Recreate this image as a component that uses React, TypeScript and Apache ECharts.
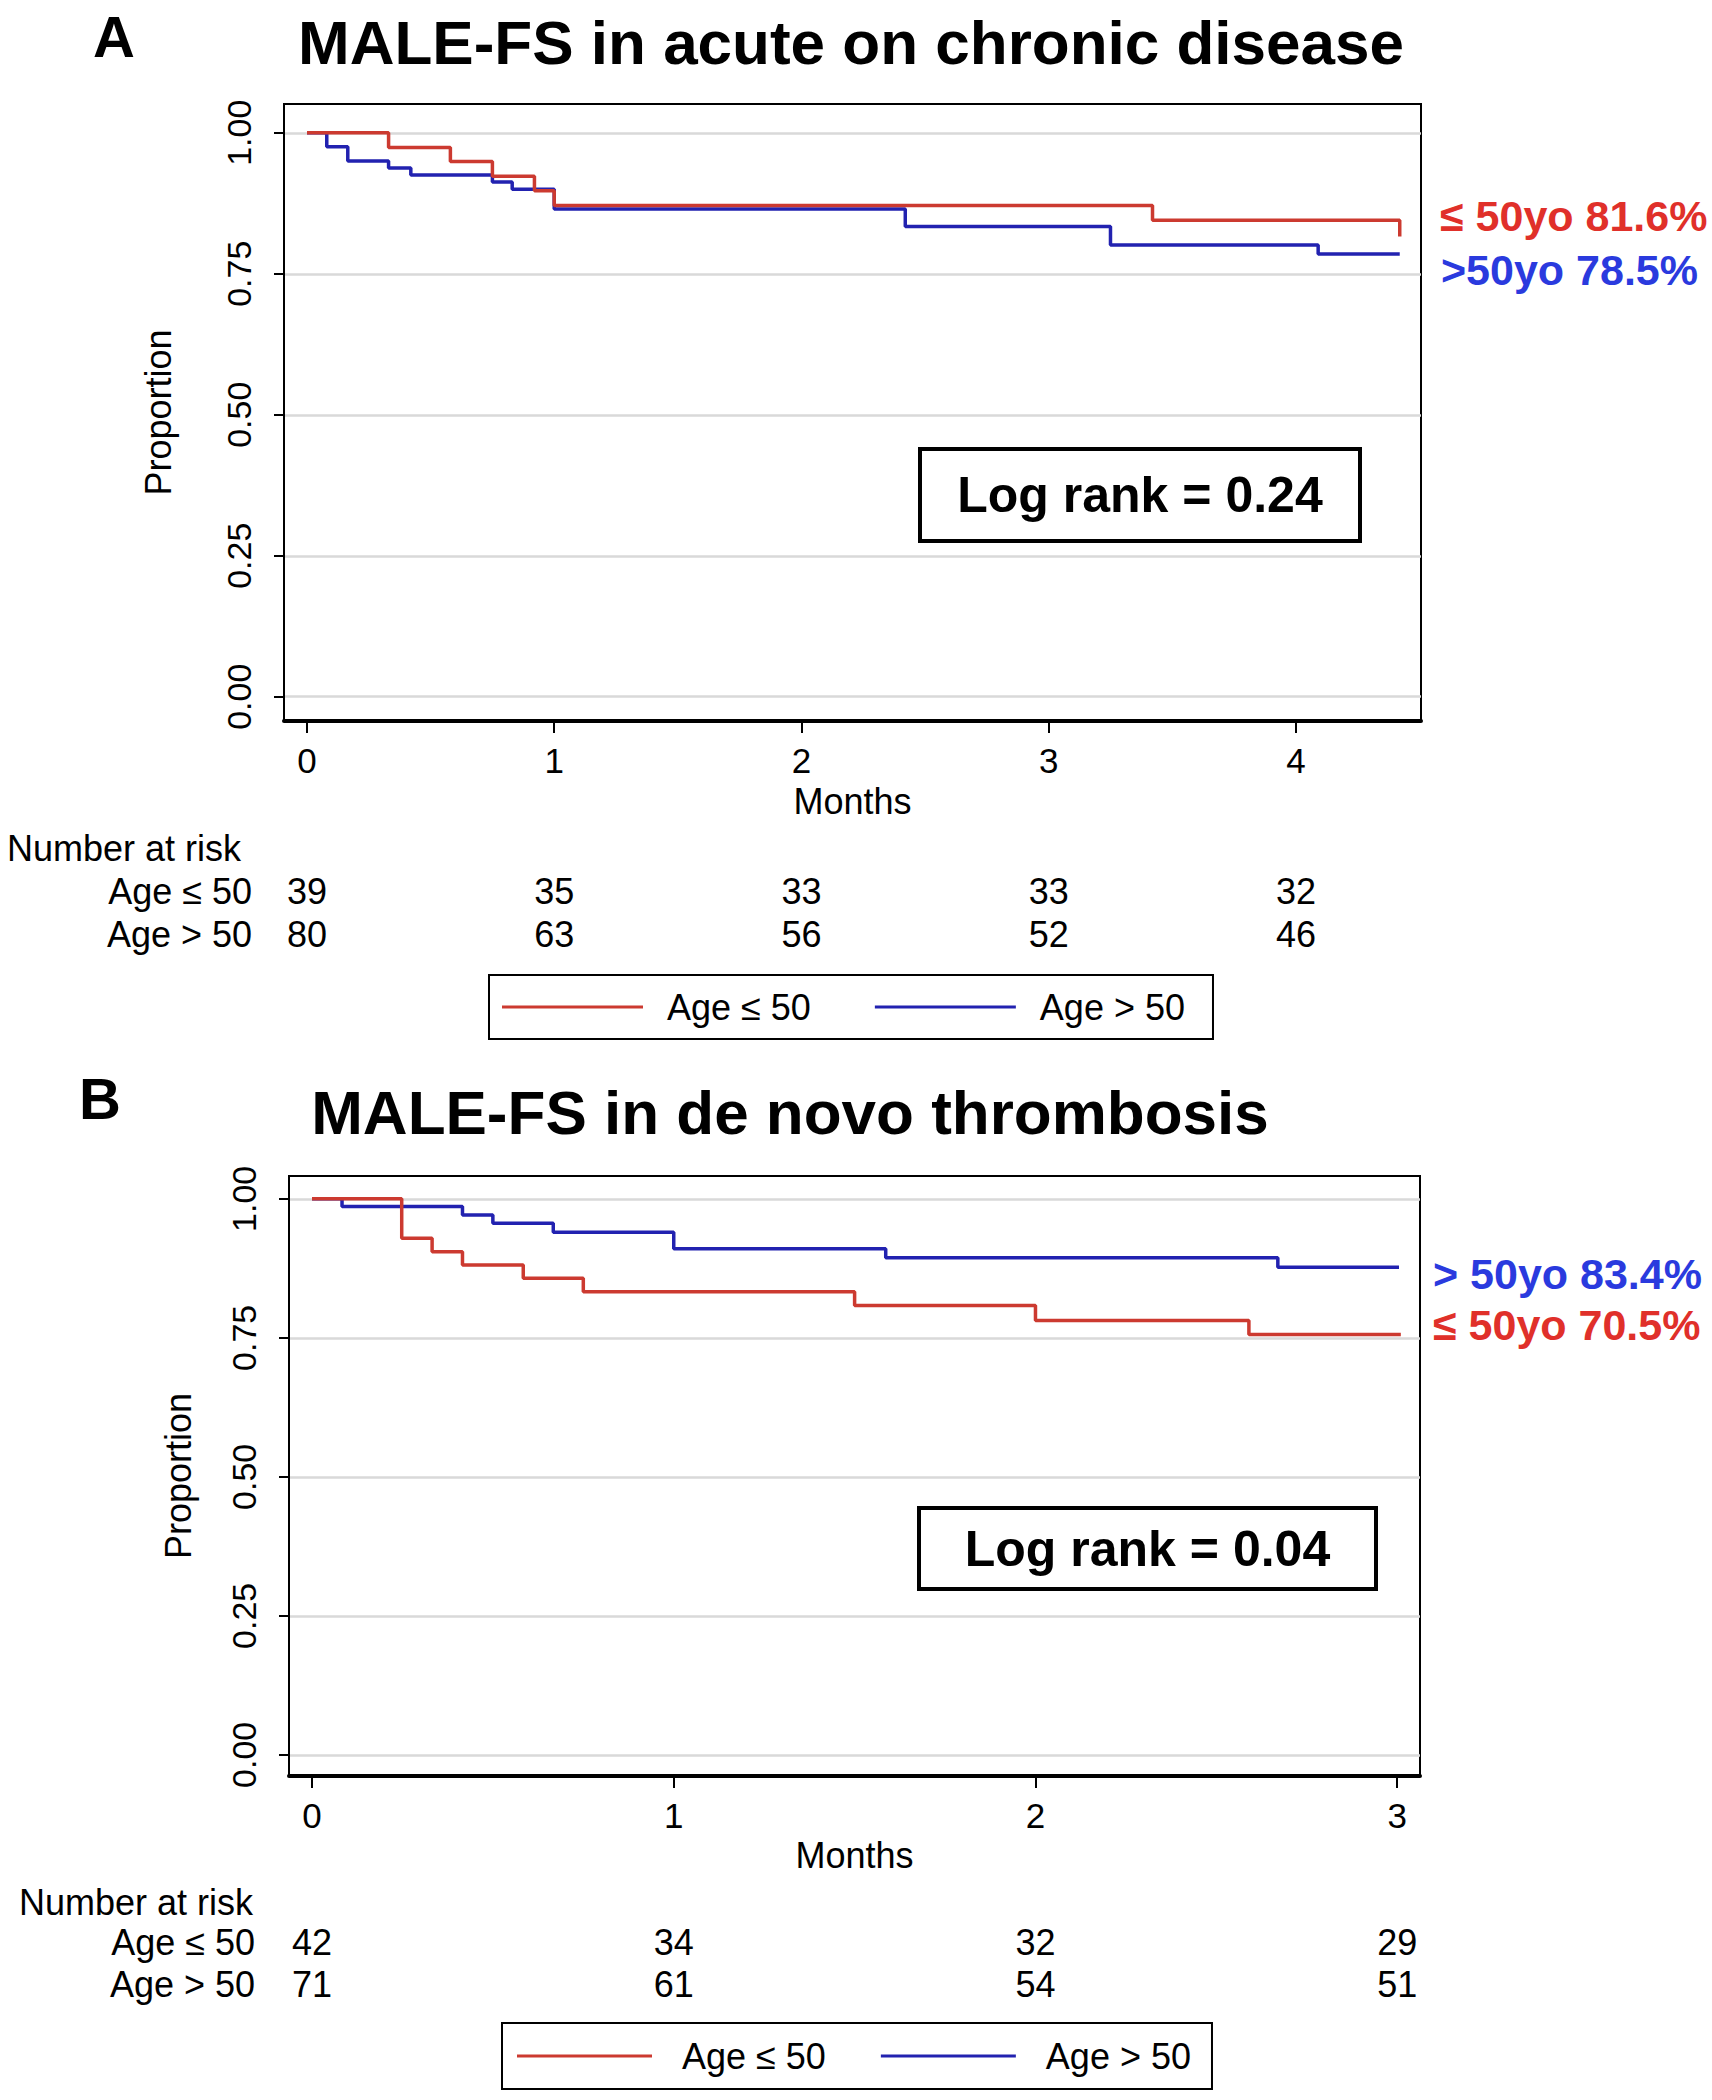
import React, { useEffect, useRef } from "react";
import * as echarts from "echarts";

// ---------- data ----------
const monthTicksA = [0, 1, 2, 3, 4];
const monthTicksB = [0, 1, 2, 3];
const propTicks = [0, 0.25, 0.5, 0.75, 1];

// Panel A: acute on chronic disease  [months, survival proportion]
const aLow: [number, number][] = [
  [0, 1], [0.33, 0.974], [0.58, 0.949], [0.75, 0.923], [0.92, 0.897],
  [1.0, 0.871], [3.42, 0.845], [4.42, 0.816],
];
const aHigh: [number, number][] = [
  [0, 1], [0.08, 0.975], [0.165, 0.95], [0.33, 0.9375], [0.42, 0.925],
  [0.75, 0.9125], [0.83, 0.9], [1.0, 0.865], [2.42, 0.834], [3.25, 0.801],
  [4.09, 0.785], [4.42, 0.785],
];
// Panel B: de novo thrombosis
const bLow: [number, number][] = [
  [0, 1], [0.248, 0.929], [0.332, 0.905], [0.416, 0.881], [0.584, 0.857],
  [0.75, 0.833], [1.5, 0.808], [2.0, 0.781], [2.59, 0.756], [3.01, 0.756],
];
const bHigh: [number, number][] = [
  [0, 1], [0.083, 0.986], [0.416, 0.971], [0.5, 0.956], [0.667, 0.94],
  [1.0, 0.91], [1.586, 0.894], [2.67, 0.877], [3.005, 0.877],
];

const riskALow = [39, 35, 33, 33, 32];
const riskAHigh = [80, 63, 56, 52, 46];
const riskBLow = [42, 34, 32, 29];
const riskBHigh = [71, 61, 54, 51];

const groupNames = ["Age \u2264 50", "Age > 50"];
const titleA = "MALE-FS in acute on chronic disease";
const titleB = "MALE-FS in de novo thrombosis";
const endLabelsA = ["\u2264 50yo 81.6%", ">50yo 78.5%"];
const endLabelsB = ["> 50yo 83.4%", "\u2264 50yo 70.5%"];
const logRankA = "Log rank = 0.24";
const logRankB = "Log rank = 0.04";

// ---------- styles ----------
const FONT = "'Liberation Sans', Arial, Helvetica, sans-serif";
const RED = "#cc3a30";
const BLUE = "#2222b0";
const TXT_RED = "#e0302a";
const TXT_BLUE = "#2a3ade";

function mainX(gridIndex: number, min: number, max: number, ticks: number[], nameGap: number) {
  return {
    type: "value", gridIndex, min, max,
    name: "Months", nameLocation: "middle", nameGap,
    nameTextStyle: { fontFamily: FONT, fontSize: 36, color: "#000" },
    axisLine: { show: true, onZero: false, lineStyle: { color: "#000", width: 4 } },
    axisTick: { show: true, length: 12, customValues: ticks, lineStyle: { color: "#000", width: 2 } },
    axisLabel: {
      show: true, customValues: ticks, margin: 22, fontFamily: FONT, fontSize: 35, color: "#000",
      formatter: (v: number) => String(v),
    },
    splitLine: { show: false },
  };
}

function riskX(gridIndex: number, min: number, max: number, ticks: number[], counts: number[], offset: number) {
  return {
    type: "value", gridIndex, min, max, position: "bottom", offset,
    axisLine: { show: false }, axisTick: { show: false }, splitLine: { show: false },
    axisLabel: {
      show: true, customValues: ticks, margin: 0, fontFamily: FONT, fontSize: 36, color: "#000",
      formatter: (v: number) => String(counts[ticks.indexOf(Math.round(v))]),
    },
  };
}

function mainY(gridIndex: number, min: number, max: number, nameGap: number) {
  return {
    type: "value", gridIndex, min, max,
    name: "Proportion", nameLocation: "middle", nameGap, nameRotate: 90,
    nameTextStyle: { fontFamily: FONT, fontSize: 36, color: "#000" },
    axisLine: { show: true, onZero: false, lineStyle: { color: "#000", width: 2 } },
    axisTick: { show: true, length: 10, customValues: propTicks, lineStyle: { color: "#000", width: 2 } },
    axisLabel: {
      show: true, customValues: propTicks, rotate: 90, margin: 28, fontFamily: FONT, fontSize: 34, color: "#000",
      formatter: (v: number) => v.toFixed(2),
    },
    splitLine: { show: true, lineStyle: { color: "#d9d9d9", width: 2.5 } },
  };
}

function kmSeries(name: string, data: [number, number][], idx: number, color: string, z: number) {
  return {
    type: "line", name, xAxisIndex: idx, yAxisIndex: idx, data, step: "end",
    symbol: "none", lineStyle: { color, width: 3.5 }, itemStyle: { color }, z,
  };
}

function txt(text: string, x: number, y: number, size: number, opts: any = {}) {
  return {
    type: "text", x, y, z: 100,
    style: {
      text, fontFamily: FONT, fontSize: size, fill: opts.fill || "#000",
      fontWeight: opts.bold ? "bold" : "normal",
      textAlign: opts.align || "left", textVerticalAlign: "middle",
    },
  };
}

function logBox(text: string, x: number, y: number, w: number, h: number) {
  return [
    { type: "rect", z: 90, shape: { x, y, width: w, height: h }, style: { fill: "#fff", stroke: "#000", lineWidth: 4 } },
    txt(text, x + w / 2, y + h / 2, 50, { bold: true, align: "center" }),
  ];
}

function legendCfg(left: number, top: number, itemWidth: number, gap: number, textPad: number, pad: number[]) {
  return {
    data: groupNames, left, top, orient: "horizontal", icon: "rect",
    itemWidth, itemHeight: 3, itemGap: gap, padding: pad,
    borderColor: "#000", borderWidth: 2, backgroundColor: "#fff", selectedMode: false,
    textStyle: { fontFamily: FONT, fontSize: 36, color: "#000", padding: [0, 0, 0, textPad] },
  };
}

const option: any = {
  animation: false,
  backgroundColor: "#fff",
  grid: [
    { left: 284, top: 104, width: 1137, height: 617, show: true, borderColor: "#000", borderWidth: 2, backgroundColor: "#fff" },
    { left: 289, top: 1176, width: 1131, height: 600, show: true, borderColor: "#000", borderWidth: 2, backgroundColor: "#fff" },
  ],
  xAxis: [
    mainX(0, -0.093, 4.506, monthTicksA, 62),
    mainX(1, -0.0636, 3.063, monthTicksB, 61),
    riskX(0, -0.093, 4.506, monthTicksA, riskALow, 152),
    riskX(0, -0.093, 4.506, monthTicksA, riskAHigh, 195),
    riskX(1, -0.0636, 3.063, monthTicksB, riskBLow, 148),
    riskX(1, -0.0636, 3.063, monthTicksB, riskBHigh, 190),
  ],
  yAxis: [
    mainY(0, -0.043, 1.051, 108),
    mainY(1, -0.038, 1.041, 93),
  ],
  legend: [
    legendCfg(489, 975, 141, 64, 19, [14, 28, 14, 13]),
    legendCfg(502, 2023, 135, 55, 25, [15, 21, 15, 15]),
  ],
  series: [
    kmSeries(groupNames[1], aHigh, 0, BLUE, 3),
    kmSeries(groupNames[0], aLow, 0, RED, 4),
    kmSeries(groupNames[1], bHigh, 1, BLUE, 3),
    kmSeries(groupNames[0], bLow, 1, RED, 4),
  ],
  graphic: [
    txt("A", 114, 36, 58, { bold: true, align: "center" }),
    txt(titleA, 851, 42, 62, { bold: true, align: "center" }),
    txt("B", 100, 1098, 58, { bold: true, align: "center" }),
    txt(titleB, 790, 1112, 62, { bold: true, align: "center" }),
    txt(endLabelsA[0], 1440, 216, 43, { bold: true, fill: TXT_RED }),
    txt(endLabelsA[1], 1441, 270, 43, { bold: true, fill: TXT_BLUE }),
    txt(endLabelsB[0], 1433, 1274, 43, { bold: true, fill: TXT_BLUE }),
    txt(endLabelsB[1], 1433, 1325, 43, { bold: true, fill: TXT_RED }),
    ...logBox(logRankA, 920, 449, 440, 92),
    ...logBox(logRankB, 919, 1508, 457, 81),
    txt("Number at risk", 7, 848, 36),
    txt(groupNames[0], 252, 891, 36, { align: "right" }),
    txt(groupNames[1], 252, 934, 36, { align: "right" }),
    txt("Number at risk", 19, 1902, 36),
    txt(groupNames[0], 255, 1942, 36, { align: "right" }),
    txt(groupNames[1], 255, 1984, 36, { align: "right" }),
  ],
};

export default function App() {
  const ref = useRef<HTMLDivElement>(null);
  useEffect(() => {
    document.body.style.margin = "0";
    const chart = echarts.init(ref.current!, undefined, { renderer: "svg" });
    chart.setOption(option);
    return () => chart.dispose();
  }, []);
  return <div ref={ref} style={{ width: 1712, height: 2100, background: "#fff" }} />;
}
